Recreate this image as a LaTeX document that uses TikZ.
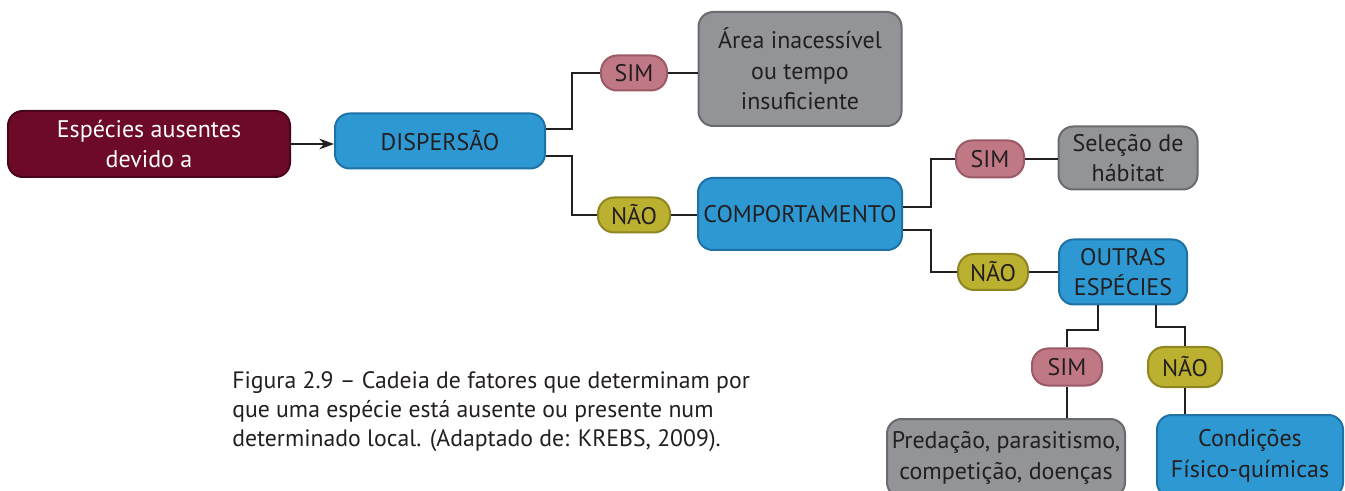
\documentclass[tikz,border=0pt]{standalone}
\usepackage{fontspec}
\setmainfont{PT Sans}
\usetikzlibrary{calc,arrows.meta}
\definecolor{txt}{HTML}{231F20}
\definecolor{maroon}{HTML}{6D0A27}
\definecolor{maroonb}{HTML}{4A0619}
\definecolor{bblue}{HTML}{2E98D3}
\definecolor{bblueb}{HTML}{1F72A6}
\definecolor{pink}{HTML}{C07885}
\definecolor{pinkb}{HTML}{9A5A66}
\definecolor{olive}{HTML}{BCB030}
\definecolor{oliveb}{HTML}{8F8622}
\definecolor{gbox}{HTML}{929497}
\definecolor{gboxb}{HTML}{6A6B6E}
\tikzset{
  box/.style={rectangle, rounded corners=11pt, line width=1.5pt, align=center,
    text=txt, font=\fontsize{18}{23}\selectfont, inner sep=0pt},
  startbox/.style={box, fill=maroon, draw=maroonb, text=white},
  bluebox/.style={box, fill=bblue, draw=bblueb},
  graybox/.style={box, fill=gbox, draw=gboxb},
  pill/.style={rectangle, rounded corners=12pt, line width=1.5pt, align=center,
    text=txt, font=\fontsize{18}{23}\selectfont, inner sep=0pt},
  simpill/.style={pill, fill=pink, draw=pinkb},
  naopill/.style={pill, fill=olive, draw=oliveb},
  conn/.style={line width=1.5pt, draw=txt},
}
\begin{document}
\begin{tikzpicture}[x=0.75pt,y=-0.75pt]
\useasboundingbox (0,0) rectangle (1345,491);
\clip (0,0) rectangle (1345,491);
\node[startbox, minimum width=211.5pt, minimum height=49.5pt] (esp) at (149,144) {Espécies ausentes\\devido a};
\node[bluebox, minimum width=157.5pt, minimum height=41.25pt] (disp) at (440,141) {DISPERSÃO};
\node[simpill, minimum width=49.5pt, minimum height=26.25pt] (sim1) at (634,73) {SIM};
\node[graybox, minimum width=152.25pt, minimum height=85.5pt] (area) at (800,69) {Área inacessível\\ou tempo\\insuficiente};
\node[naopill, minimum width=54pt, minimum height=26.25pt] (nao1) at (634,215) {NÃO};
\node[bluebox, minimum width=153pt, minimum height=54pt] (comp) at (800,214) {COMPORTAMENTO};
\node[simpill, minimum width=51pt, minimum height=27.75pt] (sim2) at (990,159) {SIM};
\node[graybox, minimum width=104.25pt, minimum height=47.25pt] (sel) at (1128,158) {Seleção de\\hábitat};
\node[naopill, minimum width=52.5pt, minimum height=27pt] (nao2) at (993,272) {NÃO};
\node[bluebox, minimum width=96pt, minimum height=48.75pt] (outras) at (1123,272) {OUTRAS\\ESPÉCIES};
\node[simpill, minimum width=52.5pt, minimum height=27.75pt] (sim3) at (1067,367) {SIM};
\node[naopill, minimum width=55.5pt, minimum height=30pt] (nao3) at (1185,367) {NÃO};
\node[graybox, minimum width=178.5pt, minimum height=58.5pt] (pred) at (1006,458) {Predação, parasitismo,\\competição, doenças};
\node[bluebox, minimum width=139.5pt, minimum height=61.5pt] (cond) at (1250,456) {Condições\\Físico-químicas};
\node[anchor=north west, align=left, text=txt, inner sep=0pt,
  font=\fontsize{17.8}{22}\selectfont] (cap) at (232,371)
  {Figura 2.9 – Cadeia de fatores que determinam por\\que uma espécie está ausente ou presente num\\determinado local. (Adaptado de: KREBS, 2009).};
% connectors
\draw[conn, -{Stealth[length=11pt,width=8pt]}] (esp.east) -- (esp.east -| disp.west);
\draw[conn] ($(disp.east)+(0,-12)$) -- ++(26,0) |- (sim1.west);
\draw[conn] ($(disp.east)+(0,15)$) -- ++(26,0) |- (nao1.west);
\draw[conn] (sim1.east) -- (sim1.east -| area.west);
\draw[conn] (nao1.east) -- (nao1.east -| comp.west);
\draw[conn] ($(comp.east)+(0,-7)$) -- ++(28,0) |- (sim2.west);
\draw[conn] ($(comp.east)+(0,16)$) -- ++(28,0) |- (nao2.west);
\draw[conn] (sim2.east) -- (sim2.east -| sel.west);
\draw[conn] (nao2.east) -- (nao2.east -| outras.west);
\draw[conn] ($(outras.south)+(-25,0)$) -- ++(0,25) -| (sim3.north);
\draw[conn] ($(outras.south)+(33,0)$) -- ++(0,22) -| (nao3.north);
\draw[conn] (sim3.south) -- (sim3.south |- pred.north);
\draw[conn] (nao3.south) -- (nao3.south |- cond.north);
\end{tikzpicture}
\end{document}
